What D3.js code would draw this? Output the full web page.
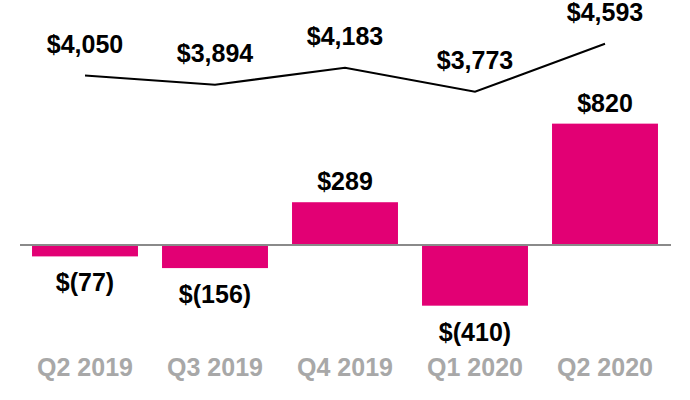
<!DOCTYPE html>
<html>
<head>
<meta charset="utf-8">
<script src="https://cdn.jsdelivr.net/npm/d3@7"></script>
<style>
  body { margin: 0; background: #fff; }
  text { font-family: "Liberation Sans", Arial, sans-serif; font-weight: bold; }
</style>
</head>
<body>
<div id="chart"></div>
<script>
// quarters + values (millions)
const quarters = ["Q2 2019", "Q3 2019", "Q4 2019", "Q1 2020", "Q2 2020"];
const barValues = [-77, -156, 289, -410, 820];
const lineValues = [4050, 3894, 4183, 3773, 4593];

const fmtMoney = v => v < 0 ? "$(" + d3.format(",")(-v) + ")" : "$" + d3.format(",")(v);

const width = 690, height = 400;

const svg = d3.select("#chart").append("svg")
    .attr("width", width)
    .attr("height", height);

// scales
const x = d3.scaleBand()
    .domain(quarters)
    .range([20, 670])
    .paddingInner(0.185)
    .paddingOuter(0.0925);

const yBar = d3.scaleLinear()
    .domain([-500, 1000])
    .range([319, 97]);

const yLine = d3.scaleLinear()
    .domain([3000, 5000])
    .range([137, 20]);

const cx = q => x(q) + x.bandwidth() / 2;

// bars
svg.append("g").selectAll("rect")
    .data(barValues)
    .join("rect")
    .attr("x", (d, i) => x(quarters[i]))
    .attr("width", x.bandwidth())
    .attr("y", d => Math.min(yBar(d), yBar(0)))
    .attr("height", d => Math.abs(yBar(d) - yBar(0)))
    .attr("fill", "#e20074");

// zero line
svg.append("line")
    .attr("x1", 20).attr("x2", 671)
    .attr("y1", yBar(0)).attr("y2", yBar(0))
    .attr("stroke", "#8a8a8a")
    .attr("stroke-width", 2);

// bar labels
svg.append("g").selectAll("text")
    .data(barValues)
    .join("text")
    .attr("x", (d, i) => cx(quarters[i]))
    .attr("y", d => d >= 0 ? yBar(d) - 12 : yBar(d) + 35)
    .attr("text-anchor", "middle")
    .attr("font-size", 25)
    .attr("fill", "#000")
    .text(d => fmtMoney(d));

// line
const line = d3.line()
    .x((d, i) => cx(quarters[i]))
    .y(d => yLine(d));

svg.append("path")
    .datum(lineValues)
    .attr("d", line)
    .attr("fill", "none")
    .attr("stroke", "#000")
    .attr("stroke-width", 2);

// line labels
svg.append("g").selectAll("text")
    .data(lineValues)
    .join("text")
    .attr("x", (d, i) => cx(quarters[i]))
    .attr("y", d => yLine(d) - 23)
    .attr("text-anchor", "middle")
    .attr("font-size", 25)
    .attr("fill", "#000")
    .text(d => fmtMoney(d));

// category labels
svg.append("g").selectAll("text")
    .data(quarters)
    .join("text")
    .attr("x", d => cx(d))
    .attr("y", 376)
    .attr("text-anchor", "middle")
    .attr("font-size", 25)
    .attr("fill", "#a8a8a8")
    .text(d => d);
</script>
</body>
</html>
